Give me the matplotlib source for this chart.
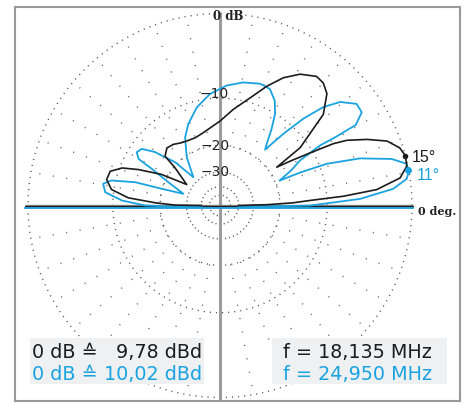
import numpy as np
import matplotlib
matplotlib.use("Agg")
import matplotlib.pyplot as plt
import matplotlib.transforms as mtransforms
from matplotlib.patches import Rectangle

# ---------------- data ----------------
black_angle = [0, 1, 2.1, 3.2, 4.3, 5.8, 8.7, 11.9, 15, 17.8, 21.1, 24.2, 27.2, 28.6, 30.3,
               32.3, 34.0, 35.8, 41.4, 46.3, 49.9, 53.2, 58.6, 63.6, 68.6, 74.4, 82.1, 90,
               102.9, 110, 117.4, 122, 127.4, 132.7, 138.1, 140, 147.8, 152, 156.2, 159,
               162.7, 167.1, 171.6, 175.2, 177.6, 179.5, 180]
black_db = [-40, -24, -16.6, -13.0, -7.5, -3.4, -0.9, -0.1, 0, -0.3, -1.2, -3.0, -5.1, -6.8, -10.5,
            -14.4, -17.7, -11.4, -5.7, -3.7, -3.1, -3.0, -3.8, -5.1, -6.95, -9.3, -11.7, -14.1,
            -16.2, -16.8, -16.7, -16.4, -15.7, -15.4, -16.4, -20.3, -27.2, -18.3, -13.2, -10.4,
            -8.8, -8.6, -9.6, -12.6, -18.6, -25, -40]

blue_angle = [0, 0.3, 0.6, 3.1, 5.8, 8.4, 10.5, 12.9, 15.5, 19.0, 21.8, 23.0, 23.5, 27.0,
              29.9, 31.4, 31.0, 31.0, 33.6, 36.9, 41.0, 43.9, 46.5, 48.9, 51.6, 53.3, 56.4,
              59.3, 62.6, 67.0, 71.9, 79.4, 86.8, 95.1, 103.2, 111.0, 116.8, 124.0, 132.3,
              135.4, 140.1, 143.6, 146.9, 149.7, 151.1, 154.8, 160.9, 163.1, 164.0, 166.5,
              169.0, 172.9, 176.5, 179.2, 180, 180]
blue_db = [-40, -20, -13, -5.4, -1.7, -0.3, 0, -0.05, -1.3, -4.5, -8.8, -13.6, -18.6, -15.0,
           -12.6, -8.5, -6.0, -3.3, -2.07, -2.0, -3.2, -5.0, -7.9, -11.8, -16.7, -15.4, -12.4,
           -9.9, -8.2, -7.0, -6.8, -7.2, -7.9, -9.1, -10.9, -13.3, -15.6, -20.1, -27.1,
           -19.1, -14.0, -11.7, -11.3, -12.2, -15.5, -20.8, -27.5, -19.7, -13.4, -9.3,
           -8.2, -8.7, -11.5, -16.1, -22.5, -40]

peak_angles = [15, 11]
peak_labels = ["15°", "11°"]
ring_db = [0, -10, -20, -30, -40, -50]
ring_labels = ["-10", "-20", "-30"]
ref_lines = [("0 dB \u2259", "9,78 dBd"), ("0 dB \u2259", "10,02 dBd")]
freq_lines = [("f =", "18,135 MHz"), ("f =", "24,950 MHz")]

BLACK = "#1c1c1c"
BLUE = "#1aa3e0"


def rad(db):
    # ARRL log-periodic scale: 0.89 per 2 dB
    return np.exp(-np.asarray(db, dtype=float) * np.log(0.89) / 2)


def xy(ang, db):
    a = np.radians(np.asarray(ang, dtype=float))
    r = rad(db)
    return r * np.cos(a), r * np.sin(a)


# ---------------- figure ----------------
fig = plt.figure(figsize=(4.68, 4.03), dpi=100)
ax = fig.add_axes([15 / 468, 2 / 403, 445 / 468, 394 / 403])
ax.set_xlim(-205 / 192, 240 / 192)
ax.set_ylim(-195.5 / 192, 198.5 / 192)
ax.set_xticks([])
ax.set_yticks([])
for s in ax.spines.values():
    s.set_color("#9a9a9a")
    s.set_linewidth(1.5)

# dotted grid
th = np.linspace(0, 2 * np.pi, 721)
for db in ring_db:
    r = rad(db)
    gap = 3.6 if db > -30 else 2.2
    ax.plot(r * np.cos(th), r * np.sin(th), ls=(0, (0.8, gap)), lw=1.0,
            color="#555555", zorder=1)
r_in = float(rad(-20))
for a in range(0, 360, 10):
    c, s_ = np.cos(np.radians(a)), np.sin(np.radians(a))
    ax.plot([r_in * c, c], [r_in * s_, s_],
            ls=(0, (0.8, 9)), lw=1.0, color="#666666", zorder=1)

# axes lines
ax.plot([0, 0], [-1.02, 1.008], color="#9c9c9c", lw=2.2, zorder=2, solid_capstyle="butt")
ax.plot([-1.016, 1.005], [0, 0], color="#7a7a7a", lw=2.4, zorder=3, solid_capstyle="butt")
ax.plot([-1.016, 1.005], [0, 0], color=BLACK, lw=0.7, zorder=3)
shift_blue = ax.transData + mtransforms.ScaledTranslation(0, -2.2 / 100, fig.dpi_scale_trans)
ax.plot([-1.016, 1.005], [0, 0], color=BLUE, lw=1.3, zorder=3, transform=shift_blue)

# patterns
bx, by = xy(black_angle, black_db)
ax.plot(bx, by, color=BLACK, lw=1.2, zorder=5)
shift_c = ax.transData + mtransforms.ScaledTranslation(0, -1.0 / 100, fig.dpi_scale_trans)
cx, cy = xy(blue_angle, blue_db)
ax.plot(cx, cy, color=BLUE, lw=1.3, zorder=4, transform=shift_c)

# peak markers + labels
px, py = xy([peak_angles[0]], [0])
ax.plot(px, py, "o", color=BLACK, ms=3, zorder=6)
qx, qy = xy([peak_angles[1]], [0])
ax.plot(qx, qy, "o", color=BLUE, ms=4, zorder=6, transform=shift_c)
sans = ["Liberation Sans", "DejaVu Sans"]
ax.text(1.0, 0.2526, peak_labels[0], color=BLACK, fontsize=11.5, family=sans,
        ha="left", va="center", zorder=7)
ax.text(1.026, 0.154, peak_labels[1], color=BLUE, fontsize=11.5, family=sans,
        ha="left", va="center", zorder=7)

# ring labels
for lab in ring_labels:
    db = float(lab)
    r = float(rad(db)) + (0.022 if db == -10 else 0.0)
    ax.text(-0.028, r, lab.replace("-", "\u2212"), color="#222222", fontsize=10,
            family=["DejaVu Sans"], ha="center", va="center", zorder=7)

serif = ["DejaVu Serif"]
ax.text(-0.036, 0.984, "0 dB", color="#222222", fontsize=8.5, family=serif,
        weight="bold", ha="left", va="center", zorder=7)
ax.text(1.031, -0.029, "0 deg.", color="#222222", fontsize=8, family=serif,
        weight="bold", ha="left", va="center", zorder=7)

# info boxes
y0, y1 = (205.5 - 384) / 192, (205.5 - 338) / 192
for (xa, xb) in [((30 - 220) / 192, (204 - 220) / 192), ((272 - 220) / 192, (447 - 220) / 192)]:
    ax.add_patch(Rectangle((xa, y0), xb - xa, y1 - y0, facecolor="#eef0f2",
                           edgecolor="none", zorder=8))

box_font = ["DejaVu Sans"]
base_y = [(205.5 - 358) / 192, (205.5 - 380) / 192]
cols = [BLACK, BLUE]
for i in range(2):
    ax.text((32 - 220) / 192, base_y[i], ref_lines[i][0], color=cols[i], fontsize=13.8,
            family=box_font, ha="left", va="baseline", zorder=9)
    ax.text((202 - 220) / 192, base_y[i], ref_lines[i][1], color=cols[i], fontsize=13.8,
            family=box_font, ha="right", va="baseline", zorder=9)
    ax.text((283 - 220) / 192, base_y[i], freq_lines[i][0] + " " + freq_lines[i][1],
            color=cols[i], fontsize=13.8, family=box_font, ha="left", va="baseline", zorder=9)

fig.savefig("out.png", dpi=100, facecolor="white")
